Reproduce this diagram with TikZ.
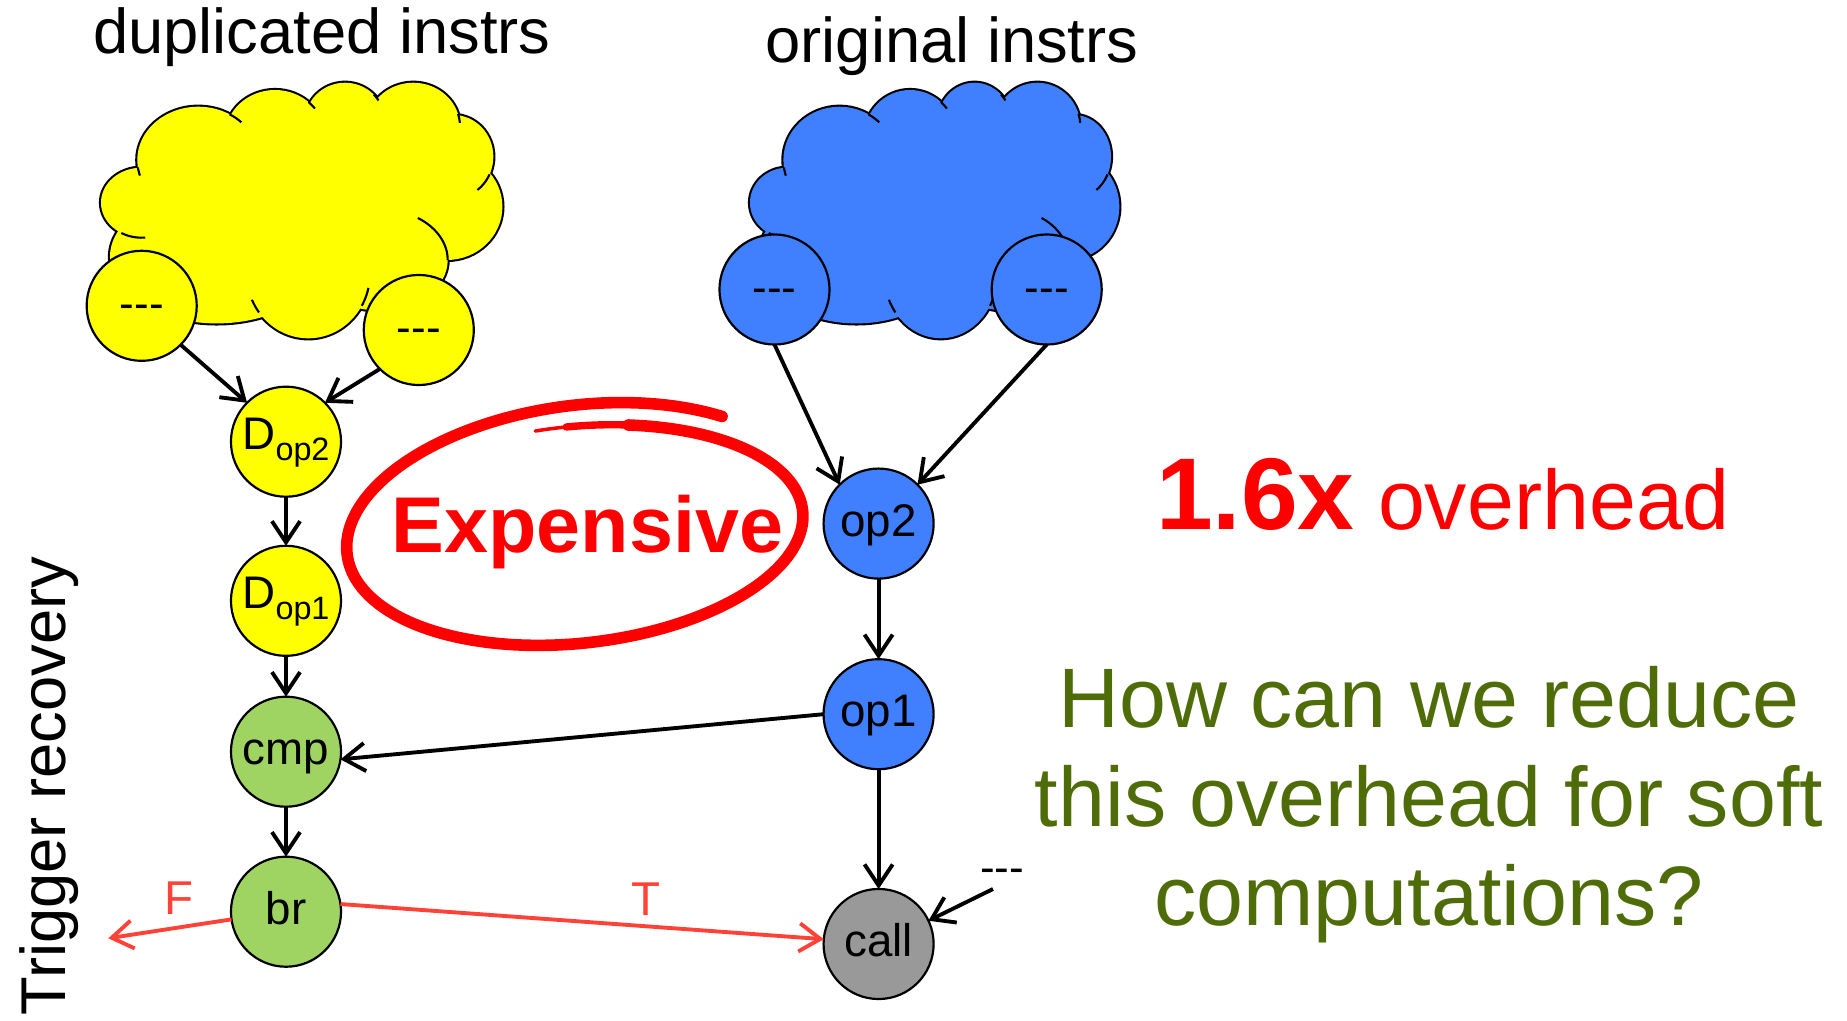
\documentclass[tikz,border=0pt]{standalone}
\usepackage{fontspec}
\setmainfont{Liberation Sans}
\usetikzlibrary{arrows.meta}

\definecolor{ynode}{RGB}{255,255,0}
\definecolor{bnode}{RGB}{64,128,255}
\definecolor{gnode}{RGB}{160,212,98}
\definecolor{cnode}{RGB}{153,153,153}
\definecolor{hotred}{RGB}{255,0,0}
\definecolor{edgered}{RGB}{255,66,56}
\definecolor{olive}{RGB}{78,108,8}

% cloud bumps: centre (u,v) and radii (ru,rv), as fractions of the cloud box
\def\bumplist{0.1015/0.4694/0.1015/0.1373, 0.2426/0.302/0.1521/0.209,
  0.4339/0.2106/0.1247/0.1831, 0.6085/0.1518/0.0998/0.1529,
  0.7788/0.1714/0.1165/0.1725, 0.8786/0.289/0.0998/0.1635,
  0.8621/0.4851/0.1389/0.209, 0.6958/0.6941/0.1688/0.1988,
  0.517/0.7463/0.1539/0.2549, 0.2885/0.6812/0.2661/0.2616}
% short inner arcs where one bump runs into the next
\def\hooklist{0.2426/0.302/0.1521/0.209/-59/-45,
  0.4339/0.2106/0.1247/0.1831/-48/-37,
  0.6085/0.1518/0.0998/0.1529/-44/-33,
  0.7788/0.1714/0.1165/0.1725/-17/-5,
  0.8786/0.289/0.0998/0.1635/25/53,
  0.6958/0.6941/0.1688/0.1988/-56/0,
  0.517/0.7463/0.1539/0.2549/13/30,
  0.517/0.7463/0.1539/0.2549/143/156,
  0.1015/0.4694/0.1015/0.1373/85/120,
  0.2426/0.302/0.1521/0.209/163/172}

% #1,#2 top-left corner, #3 width, #4 height, #5 fill colour
\newcommand\drawcloud[5]{%
  \foreach \cu/\cv/\cru/\crv in \bumplist {
    \draw[line width=1.2pt] ({#1+#3*\cu},{#2+#4*\cv})
      ellipse [x radius={#3*\cru}, y radius={#4*\crv}];
  }
  \foreach \cu/\cv/\cru/\crv in \bumplist {
    \fill[#5] ({#1+#3*\cu},{#2+#4*\cv})
      ellipse [x radius={#3*\cru}, y radius={#4*\crv}];
  }
  \fill[#5] ({#1+#3*0.1015},{#2+#4*0.4694})
    \foreach \cu/\cv/\cru/\crv in \bumplist { -- ({#1+#3*\cu},{#2+#4*\cv}) } -- cycle;
  \foreach \cu/\cv/\cru/\crv/\ta/\tb in \hooklist {
    \draw[line width=0.6pt] plot[domain=\ta:\tb, samples=12, smooth]
      ({#1+#3*(\cu+\cru*cos(\x))},{#2+#4*(\cv+\crv*sin(\x))});
  }
}

% the hand-drawn ring, as a function of the swept angle \x
\newcommand\ringx{578+(224+12*(\x/360)^2)*cos(\x-101)}
\newcommand\ringy{532+(106+20*(\x/360)^2)*sin(\x-101)-0.072*(224+12*(\x/360)^2)*cos(\x-101)}

\tikzset{
  opnode/.style={circle, draw=black, line width=0.62pt, minimum size=1.1cm,
    inner sep=0pt, outer sep=0pt, font=\fontsize{13}{15}\selectfont,
    text height=0.72em, text depth=0pt},
  dupnode/.style={opnode, fill=ynode, text depth=0.28em},
  dashnode/.style={opnode, font=\fontsize{12.5}{14}\selectfont},
  conn/.style={line width=1.1pt, -{Straight Barb[length=6pt,width=8pt]}},
  redconn/.style={conn, draw=edgered},
  heading/.style={font=\fontsize{18}{21}\selectfont, inner sep=0pt},
  branchlbl/.style={font=\fontsize{13.5}{15}\selectfont, text=edgered, inner sep=0pt},
  question/.style={anchor=base, inner sep=0pt, text=olive, font=\fontsize{24}{28}\selectfont},
}

\newcommand\subop[1]{D\raisebox{-3.2pt}{\fontsize{9.2}{10}\selectfont #1}}
\newcommand\dashes{-{}-{}-}

\begin{document}
\begin{tikzpicture}[x=0.01cm,y=-0.01cm]
\useasboundingbox (0,0) rectangle (1847,1021);

% headings
\node[heading, anchor=base] (tdup) at (322,54) {duplicated instrs};
\node[heading, anchor=base] (torig) at (952,62) {original instrs};
\node[heading, anchor=base, rotate=90] (trig) at (65,786) {Trigger recovery};

% clouds of instructions
\drawcloud{101}{83}{401}{255}{ynode}
\drawcloud{750}{83}{369}{255}{bnode}

% producers at the bottom of the clouds
\node[dashnode, fill=ynode] (yA) at (141.7,305.8) {\dashes};
\node[dashnode, fill=ynode] (yB) at (418.8,330) {\dashes};
\node[dashnode, fill=bnode] (bA) at (774.5,289.5) {\dashes};
\node[dashnode, fill=bnode] (bB) at (1046.7,289.5) {\dashes};

% duplicated chain
\node[dupnode] (dop2) at (286,441.7) {\subop{op2}};
\node[dupnode] (dop1) at (286,600.8) {\subop{op1}};
\node[opnode, fill=gnode] (cmp) at (286,751.7) {cmp};
\node[opnode, fill=gnode] (brn) at (286,911.7) {br};

% original chain
\node[opnode, fill=bnode] (op2) at (878.6,523.6) {op2};
\node[opnode, fill=bnode] (op1) at (878.6,714.2) {op1};
\node[opnode, fill=cnode] (call) at (878.6,944) {call};

% extra operand of the call
\node[font=\fontsize{12.5}{14}\selectfont, anchor=base, inner sep=0pt] (dsh) at (1002,882) {\dashes};
\coordinate (dsrc) at (993,889);
\coordinate (fout) at (108.3,938.3);

% data-flow edges
\draw[conn] (yA.south east) -- (dop2.north west);
\draw[conn] (yB.south west) -- (dop2.north east);
\draw[conn] (bA.south) -- (op2.north west);
\draw[conn] (bB.south) -- (op2.north east);
\draw[conn] (dop2.south) -- (dop1.north);
\draw[conn] (dop1.south) -- (cmp.north);
\draw[conn] (cmp.south) -- (brn.north);
\draw[conn] (op2.south) -- (op1.north);
\draw[conn] (op1.south) -- (call.north);
\draw[conn] (op1.west) -- (cmp.-8);
\draw[conn] (dsrc) -- (call.25);

% branch outcomes
\draw[redconn] (brn.188) -- (fout);
\draw[redconn] (brn.8) -- (call.175);
\node[branchlbl] (lf) at (179,898) {F};
\node[branchlbl] (lt) at (645.6,899) {T};

% hand-drawn ring around the cost annotation, thin at its start
\draw[hotred, line width=1pt, line cap=round]
  plot[domain=0:10, samples=6, smooth] ({\ringx},{\ringy});
\draw[hotred, line width=2.1pt, line cap=round]
  plot[domain=8:26, samples=8, smooth] ({\ringx},{\ringy});
\draw[hotred, line width=3.3pt, line cap=round, line join=round]
  plot[domain=24:408, samples=120, smooth] ({\ringx},{\ringy});

\node[anchor=base, inner sep=0pt, text=hotred, font=\bfseries\fontsize{22.5}{26}\selectfont]
  (exp) at (587.6,552) {Expensive};

% commentary
\node[anchor=base, inner sep=0pt, text=hotred] (ovh) at (1443,529)
  {{\bfseries\fontsize{29}{32}\selectfont 1.6x}{\fontsize{24}{28}\selectfont\ overhead}};
\node[question] (q1) at (1429,727) {How can we reduce};
\node[question] (q2) at (1429,826) {this overhead for soft};
\node[question] (q3) at (1429,925) {computations?};
\end{tikzpicture}
\end{document}
